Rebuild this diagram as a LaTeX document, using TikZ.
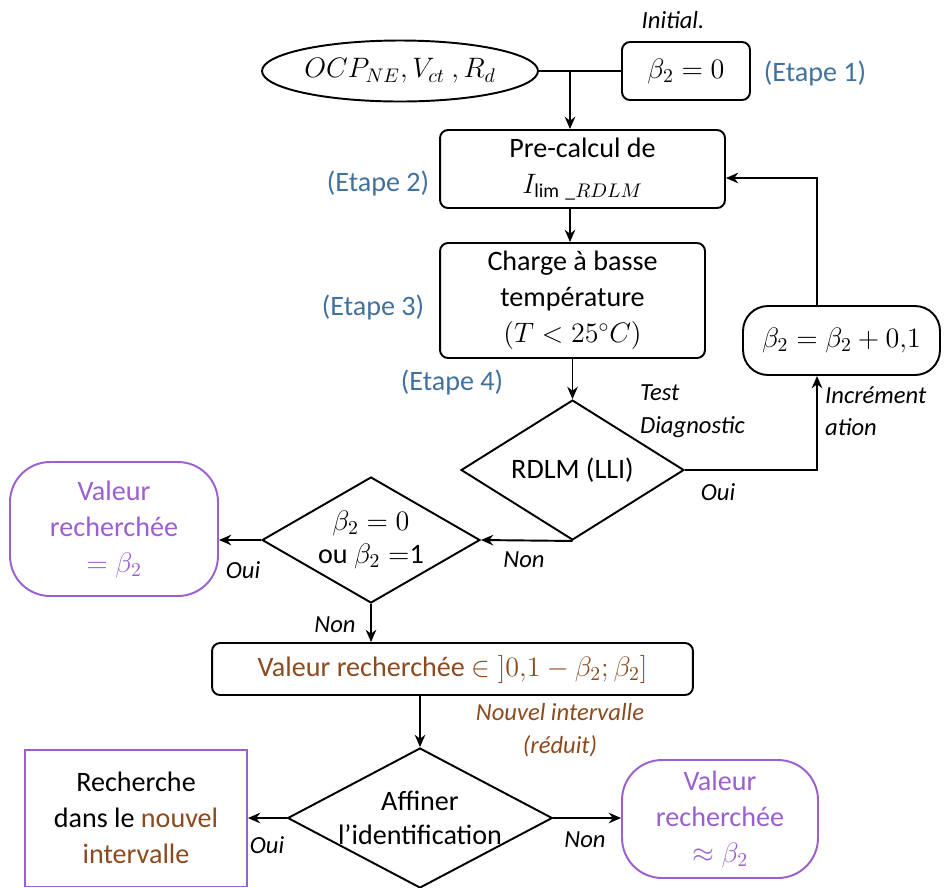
\documentclass[tikz,border=0pt]{standalone}
\usepackage{fix-cm}
\usepackage{amsmath}
\usepackage{fontspec}
\setmainfont{Carlito}
\usetikzlibrary{shapes.geometric, arrows.meta, positioning}
\definecolor{StepBlue}{HTML}{41719C}
\definecolor{ResultPurple}{HTML}{9B5FCF}
\definecolor{IntervalBrown}{HTML}{8C4A1E}
\tikzset{
    % Box styles
    component/.style={
        rectangle,
        draw=black,
        fill=white,
        line width=1.1pt,
        rounded corners=0.16cm,
        align=center,
        inner sep=2pt,
        font=\fontsize{16}{20.5}\selectfont
    },
    component round/.style={
        component,
        rounded corners=0.5cm
    },
    result purple/.style={
        component,
        draw=ResultPurple,
        text=ResultPurple,
        rounded corners=0.8cm
    },
    search purple/.style={
        component,
        draw=ResultPurple,
        rounded corners=0pt
    },
    input node/.style={
        ellipse,
        draw=black,
        line width=1.1pt,
        inner sep=0pt,
        font=\fontsize{16}{20.5}\selectfont
    },
    decision/.style={
        diamond,
        draw=black,
        fill=white,
        line width=1.1pt,
        inner sep=0pt,
        align=center,
        font=\fontsize{16}{19}\selectfont
    },
    step label/.style={
        text=StepBlue,
        font=\fontsize{16}{20.5}\selectfont
    },
    note/.style={
        align=left,
        font=\fontsize{14}{18.5}\selectfont\itshape
    },
    arrow style/.style={
        -{Stealth[length=7pt,width=6pt]},
        line width=1.1pt,
        black
    }
}

\begin{document}
\begin{tikzpicture}[x=0.02cm, y=-0.02cm]
        \useasboundingbox (0,0) rectangle (949,887);

        % Initialisation
        \node[input node, minimum width=5.52cm, minimum height=1.22cm] (inputs) at (400,71) {$OCP_{NE},V_{ct}\ ,R_d$};
        \node[component, minimum width=2.56cm, minimum height=1.16cm] (init) at (686,71) {$\beta_2 = 0$};
        \node[note] at (673,20) {Initial.};
        \node[step label] at (815,73) {(Etape 1)};

        % Main loop
        \node[component, minimum width=5.7cm, minimum height=1.56cm] (precalc) at (582.5,169) {
            Pre-calcul de\\
            $I_{\mathrm{lim}\ \_RDLM}$
        };
        \node[step label] at (378,183) {(Etape 2)};

        \node[component, minimum width=5.3cm, minimum height=2.3cm] (charge) at (572.5,300.5) {
            Charge à basse\\
            température\\
            $(T < 25^{\circ}C)$
        };
        \node[step label] at (373,307) {(Etape 3)};

        \node[decision, aspect=1.6, minimum width=4.46cm, minimum height=2.8cm] (rdlm) at (572.5,470) {RDLM (LLI)};
        \node[step label] at (452,382) {(Etape 4)};
        \node[note, anchor=west] at (634,411) {Test\\Diagnostic};

        \node[component round, minimum width=3.94cm, minimum height=1.38cm] (incr) at (841.5,340.5) {$\beta_2 = \beta_2 + 0{,}1$};
        \node[note, anchor=west] at (819,411) {Incrément\\ation};

        % Decisions
        \node[decision, aspect=1.75, minimum width=4.36cm, minimum height=2.52cm] (check) at (371,540) {
            $\beta_2 = 0$\\
            ou $\beta_2 =$1
        };
        \node[result purple, minimum width=4.16cm, minimum height=2.68cm] (found) at (114,529) {
            Valeur\\
            recherchée\\
            $= \beta_2$
        };

        \node[component, minimum width=9.62cm, minimum height=1.04cm, text=IntervalBrown] (interval) at (452.5,669) {Valeur recherchée $\in\mathopen]0{,}1 - \beta_2 ; \beta_2]$};
        \node[note, align=center, text=IntervalBrown] at (560,730) {Nouvel intervalle\\(réduit)};

        \node[decision, aspect=1.9, minimum width=5.2cm, minimum height=2.8cm] (refine) at (420,818) {
            Affiner\\
            l’identification
        };
        \node[search purple, minimum width=4.44cm, minimum height=2.74cm] (search) at (136,818) {
            Recherche\\
            dans le \textcolor{IntervalBrown}{nouvel}\\
            \textcolor{IntervalBrown}{intervalle}
        };
        \node[result purple, minimum width=3.92cm, minimum height=2.36cm] (approx) at (720,819) {
            Valeur\\
            recherchée\\
            $\approx \beta_2$
        };

        % Connectors
        \coordinate (split) at (570,71);
        \coordinate (loopx) at (817,178);
        \draw[line width=1.1pt] (inputs.east) -- (init.west);
        \draw[arrow style] (split) -- (split |- precalc.north);
        \draw[arrow style] (split |- precalc.south) -- (split |- charge.north);
        \draw[arrow style] (charge.south) -- (rdlm.north);
        \draw[arrow style] (rdlm.east) -| (loopx |- incr.south);
        \draw[arrow style] (loopx |- incr.north) -- (loopx) -- (loopx -| precalc.east);
        \draw[arrow style] (rdlm.south) -- (check.east);
        \draw[arrow style] (check.west) -- (check.west -| found.east);
        \draw[arrow style] (check.south) -- (check.south |- interval.north);
        \draw[arrow style] (interval.south -| refine.north) -- (refine.north);
        \draw[arrow style] (refine.west) -- (refine.west -| search.east);
        \draw[arrow style] (refine.east) -- (refine.east -| approx.west);

        % Branch labels
        \node[note] at (718,492) {Oui};
        \node[note] at (524,560) {Non};
        \node[note] at (243,570) {Oui};
        \node[note] at (335,625) {Non};
        \node[note] at (267,845) {Oui};
        \node[note] at (585,840) {Non};
    \end{tikzpicture}
\end{document}
